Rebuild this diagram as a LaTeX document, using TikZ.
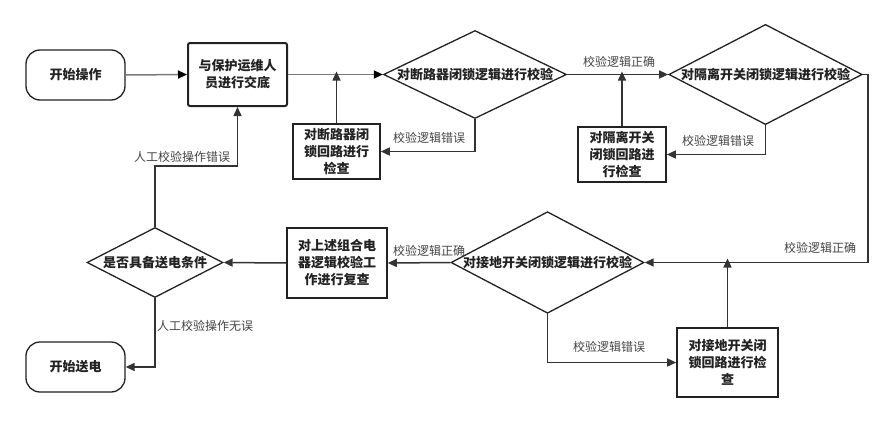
\documentclass[tikz,border=0pt]{standalone}
\usepackage{fontspec}
\setmainfont{Noto Sans CJK SC}
\usetikzlibrary{shapes.geometric,arrows.meta}
\definecolor{ink}{HTML}{222222}
\definecolor{lbl}{HTML}{444444}
\definecolor{ln}{HTML}{333333}
\definecolor{lg}{HTML}{7A7A7A}
\tikzset{
  term/.style={draw=ink,line width=1.3pt,rounded corners=14pt,minimum width=99pt,minimum height=50pt,font=\fontsize{13pt}{16pt}\selectfont\bfseries,text=ink,inner sep=0pt},
  proc/.style={draw=ink,line width=1.6pt,align=center,font=\fontsize{13pt}{17pt}\selectfont\bfseries,text=ink,inner sep=0pt},
  dia/.style={draw=ink,line width=1.3pt,shape=diamond,inner sep=0pt,font=\fontsize{13pt}{16pt}\selectfont\bfseries,text=ink},
  arr/.style={draw=ln,line width=1.5pt,-{Triangle[length=9pt,width=8pt]}},
  garr/.style={draw=lg,line width=1.5pt,-{Triangle[length=9pt,width=8pt,color=black]}},
  lab/.style={font=\fontsize{12pt}{14pt}\selectfont,text=lbl,inner sep=0pt}
}
\begin{document}
\begin{tikzpicture}[x=1pt,y=-1pt]
\useasboundingbox (0,0) rectangle (894,423);
% nodes
\node[term] (start) at (75.5,75) {开始操作};
\node[proc,minimum width=99pt,minimum height=63pt,line width=2pt,rounded corners=2pt] (jd) at (237.5,74.5) {与保护运维人\\员进行交底};
\node[dia,shape aspect=2.08,minimum width=183pt,minimum height=88pt] (d1) at (475,74.5) {对断路器闭锁逻辑进行校验};
\node[proc,minimum width=87pt,minimum height=55pt] (c1) at (336.5,151.5) {对断路器闭\\锁回路进行\\检查};
\node[dia,shape aspect=1.93,minimum width=191pt,minimum height=99pt] (d2) at (765.5,74.5) {对隔离开关闭锁逻辑进行校验};
\node[proc,minimum width=88pt,minimum height=55pt] (c2) at (622,154.5) {对隔离开关\\闭锁回路进\\行检查};
\node[dia,shape aspect=1.9,minimum width=190pt,minimum height=100pt] (d3) at (547.5,262.5) {对接地开关闭锁逻辑进行校验};
\node[proc,minimum width=101pt,minimum height=69pt] (c3) at (727.5,362.5) {对接地开关闭\\锁回路进行检\\查};
\node[proc,minimum width=100pt,minimum height=70pt] (c4) at (337,263) {对上述组合电\\器逻辑校验工\\作进行复查};
\node[dia,shape aspect=1.94,minimum width=136pt,minimum height=70pt] (d4) at (155,262.5) {是否具备送电条件};
\node[term] (end) at (75.5,367) {开始送电};
% helper coordinates
\coordinate (rt) at (868,74.5);
\coordinate (rb) at (868,262.5);
\coordinate (k1) at (155,166);
% connectors
\draw[garr] (start.east) -- (jd.west);
\draw[garr] (jd.east) -- (d1.west);
\draw[arr] (c1.north) -- ([yshift=3pt]c1.north |- jd.east);
\draw[arr] (d1.south) |- (c1.east);
\draw[arr] (d1.east) -- (d2.west);
\draw[arr] (c2.north) -- ([yshift=3pt]c2.north |- d2.west);
\draw[arr] (d2.south) |- (c2.east);
\draw[arr] (d2.east) -- (rt) -- (rb) -- (d3.east);
\draw[arr] (c3.north) -- ([yshift=4pt]c3.north |- d3.east);
\draw[arr] (d3.south) |- (c3.west);
\draw[arr] (d3.west) -- (c4.east);
\draw[arr] (c4.west) -- (d4.east);
\draw[arr] (d4.north) -- (k1) -| (jd.south);
\draw[arr] (d4.south) |- (end.east);
% labels
\node[lab] (l1) at (429,138) {校验逻辑错误};
\node[lab] (l2) at (619,62) {校验逻辑正确};
\node[lab] (l3) at (718,141) {校验逻辑错误};
\node[lab] (l4) at (820,248) {校验逻辑正确};
\node[lab] (l5) at (429,251) {校验逻辑正确};
\node[lab] (l6) at (609,347) {校验逻辑错误};
\node[lab] (l7) at (182,157) {人工校验操作错误};
\node[lab] (l8) at (205,326) {人工校验操作无误};
\end{tikzpicture}
\end{document}
